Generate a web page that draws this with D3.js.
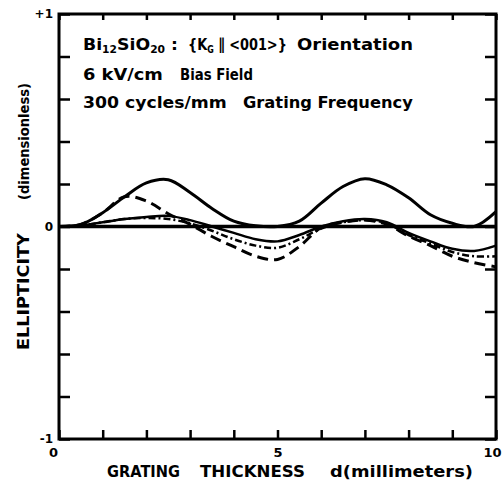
<!DOCTYPE html>
<html>
<head>
<meta charset="utf-8">
<script src="https://cdn.jsdelivr.net/npm/d3@7"></script>
<style>
  html, body { margin: 0; padding: 0; background: #fff; }
  svg { display: block; }
  text { font-family: "DejaVu Sans", "Liberation Sans", sans-serif; font-weight: bold; fill: #000; }
</style>
</head>
<body>
<svg id="chart" width="502" height="484"></svg>
<script>
// Grating thickness d (mm)
const thickness = [0, 0.5, 1, 1.5, 2, 2.5, 3, 3.5, 4, 4.5, 5, 5.5, 6, 6.5, 7, 7.5, 8, 8.5, 9, 9.5, 10];
// Ellipticity curves
const solidUpper = [0, 0.01, 0.065, 0.14, 0.205, 0.22, 0.16, 0.085, 0.025, 0.003, 0, 0.025, 0.11, 0.188, 0.225, 0.196, 0.135, 0.055, 0.015, 0, 0.07];
const longDashed = [0, 0.01, 0.065, 0.14, 0.12, 0.06, 0.01, -0.047, -0.095, -0.14, -0.155, -0.094, -0.005, 0.02, 0.03, 0.01, -0.045, -0.09, -0.14, -0.17, -0.19];
const dashDot    = [0, 0.005, 0.02, 0.035, 0.04, 0.035, 0.015, -0.02, -0.06, -0.09, -0.1, -0.06, -0.01, 0.02, 0.03, 0.015, -0.04, -0.08, -0.12, -0.14, -0.14];
const thinCurve  = [0, 0.005, 0.02, 0.035, 0.045, 0.05, 0.03, 0, -0.03, -0.06, -0.07, -0.04, 0, 0.025, 0.035, 0.02, -0.03, -0.07, -0.105, -0.115, -0.09];

const xTicks = [0, 1, 2, 3, 4, 5, 6, 7, 8, 9, 10];
const xTickLabels = {0: "0", 5: "5", 10: "10"};
const yTicks = [-1, -0.8, -0.6, -0.4, -0.2, 0, 0.2, 0.4, 0.6, 0.8, 1];
const yTickLabels = {"-1": "-1", "0": "0", "1": "+1"};

const L = 59, R = 496, T = 14, B = 439;
const svg = d3.select("#chart");
const x = d3.scaleLinear().domain([0, 10]).range([L, R]);
const y = d3.scaleLinear().domain([-1, 1]).range([B, T]);

// Axes with inward ticks
const gB = svg.append("g").attr("transform", `translate(0,${B})`)
  .call(d3.axisBottom(x).tickValues(xTicks).tickSize(-9).tickPadding(9)
    .tickFormat(d => xTickLabels[d] || ""));
const gT = svg.append("g").attr("transform", `translate(0,${T})`)
  .call(d3.axisTop(x).tickValues(xTicks).tickSize(-6).tickFormat(""));
const gL = svg.append("g").attr("transform", `translate(${L},0)`)
  .call(d3.axisLeft(y).tickValues(yTicks).tickSize(-11).tickPadding(6)
    .tickFormat(d => yTickLabels[String(+d.toFixed(1))] || ""));
const gR = svg.append("g").attr("transform", `translate(${R},0)`)
  .call(d3.axisRight(y).tickValues(yTicks).tickSize(-11).tickFormat(""));

[gB, gT, gL, gR].forEach(g => {
  g.select(".domain").remove();
  g.selectAll(".tick line").attr("stroke", "#000").attr("stroke-width", 2.5);
  g.selectAll("text").attr("font-size", 14).attr("font-family", "DejaVu Sans").attr("font-weight", "bold").attr("fill", "#000");
});
gB.selectAll("text").attr("font-size", 13)
  .attr("dx", d => d === 0 ? -6 : d === 10 ? -4 : 0);
gL.selectAll("text").attr("font-size", 12);

// Frame
svg.append("rect").attr("x", L).attr("y", T).attr("width", R - L).attr("height", B - T)
  .attr("fill", "none").attr("stroke", "#000").attr("stroke-width", 3);

// Zero line
svg.append("line").attr("x1", x(0)).attr("x2", x(10)).attr("y1", y(0)).attr("y2", y(0))
  .attr("stroke", "#000").attr("stroke-width", 3.5);

const line = d3.line().x((d, i) => x(thickness[i])).y(d => y(d)).curve(d3.curveCatmullRom.alpha(0.5));
const series = [
  {v: thinCurve, dash: null, w: 2.5},
  {v: dashDot, dash: "7,3,2,3", w: 2.5},
  {v: longDashed, dash: "11,6", w: 3},
  {v: solidUpper, dash: null, w: 3}
];
series.forEach(s => {
  svg.append("path").attr("d", line(s.v)).attr("fill", "none").attr("stroke", "#000")
    .attr("stroke-width", s.w).attr("stroke-dasharray", s.dash).attr("stroke-linecap", "butt");
});

// Text pieces squeezed horizontally to the widths seen in the figure
function piece(xp, yp, w, parts, fs, rot) {
  fs = fs || 16;
  const g = svg.append("g");
  const t = g.append("text").attr("font-size", fs);
  parts.forEach(p => {
    const s = t.append("tspan").text(p[0]);
    if (p[1]) s.attr("font-size", fs * 0.62).attr("baseline-shift", "-30%");
  });
  const len = t.node().getComputedTextLength();
  const sx = w / len;
  g.attr("transform", `translate(${xp},${yp})` + (rot ? " rotate(-90)" : "") + ` scale(${sx},1)`);
  return t;
}
piece(83, 50, 95, [["Bi"], ["12", 1], ["SiO"], ["20", 1], [" :"]]);
piece(188, 50, 99, [["{K"], ["G", 1], [" \u2225 <001>}"]]);
piece(297, 50, 116, [["Orientation"]]);
piece(83, 80, 80, [["6 kV/cm"]]);
piece(180, 80, 73, [["Bias  Field"]]);
piece(83, 108, 144, [["300 cycles/mm"]]);
piece(243, 108, 170, [["Grating Frequency"]]);

// Axis titles
piece(107, 477, 73, [["GRATING"]], 15);
piece(200, 477, 105, [["THICKNESS"]], 15);
piece(330, 477, 143, [["d(millimeters)"]], 15);
piece(29, 350, 117, [["ELLIPTICITY"]], 15, true);
piece(29, 200, 117, [["(dimensionless)"]], 14, true);
</script>
</body>
</html>
